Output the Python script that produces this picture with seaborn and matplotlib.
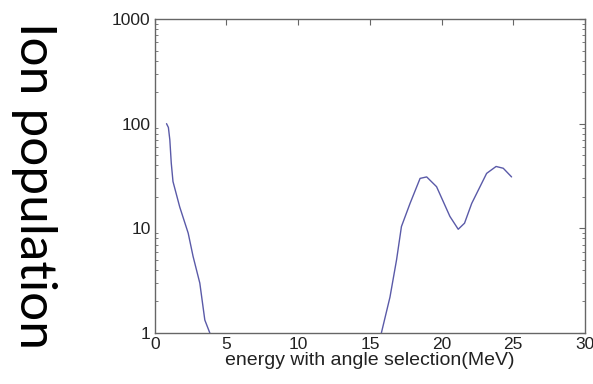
import numpy as np
import pandas as pd
import matplotlib
matplotlib.use("Agg")
import matplotlib.pyplot as plt
import seaborn as sns

# Data (energy in MeV, ion population)
energy_low = [0.82, 0.95, 1.05, 1.15, 1.27, 1.74, 2.33, 2.67, 3.14, 3.49, 3.84]
pop_low = [100, 92, 70, 42, 28, 16, 9, 5.4, 3.0, 1.33, 1.0]

energy_high = [15.8, 16.4, 16.86, 17.2, 17.8, 18.5, 18.96, 19.65, 20.58, 21.16,
               21.6, 22.1, 23.14, 23.8, 24.3, 24.88]
pop_high = [1.0, 2.2, 5.0, 10.4, 17.3, 30, 31, 25, 13, 9.8,
            11.2, 17.3, 33.5, 39, 37.5, 31]

x_ticks = [0, 5, 10, 15, 20, 25, 30]
y_ticks = [1, 10, 100, 1000]
y_tick_labels = ["1", "10", "100", "1000"]

sns.set_theme(style="white")
plt.rcParams['font.family'] = ['Liberation Sans', 'DejaVu Sans']

fig = plt.figure(figsize=(5.93, 3.84), dpi=100)
ax = fig.add_axes([0.261, 0.1328, 0.7255, 0.8177])

line_color = "#5a5aa8"
df_low = pd.DataFrame({"energy": energy_low, "pop": pop_low})
df_high = pd.DataFrame({"energy": energy_high, "pop": pop_high})
sns.lineplot(data=df_low, x="energy", y="pop", ax=ax, color=line_color, lw=1.0)
sns.lineplot(data=df_high, x="energy", y="pop", ax=ax, color=line_color, lw=1.0)

ax.set_yscale("log")
ax.set_xlim(0, 30)
ax.set_ylim(1, 1000)
ax.set_xticks(x_ticks)
ax.set_xticklabels([str(t) for t in x_ticks])
ax.set_yticks(y_ticks)
ax.set_yticklabels(y_tick_labels)

for s in ax.spines.values():
    s.set_color("#666666")
    s.set_linewidth(1.0)

ax.tick_params(axis="both", which="major", direction="in", length=4, width=0.8,
               color="#666666", top=True, right=True, labelsize=12.5,
               labelcolor="#222222")
ax.tick_params(axis="x", which="major", pad=3)
ax.tick_params(axis="y", which="major", pad=3)
ax.tick_params(axis="y", which="minor", direction="in", length=2.5, width=0.6,
               color="#666666", left=True, right=True)

ax.set_xlabel("energy with angle selection(MeV)", fontsize=14, color="#222222", labelpad=0)
ax.set_ylabel("")

fig.text(0.058, 0.518, "Ion population", rotation=-90, fontsize=37,
         family=["Lato", "DejaVu Sans"], ha="center", va="center", color="black")

fig.savefig("out.png", dpi=100, facecolor="white")
